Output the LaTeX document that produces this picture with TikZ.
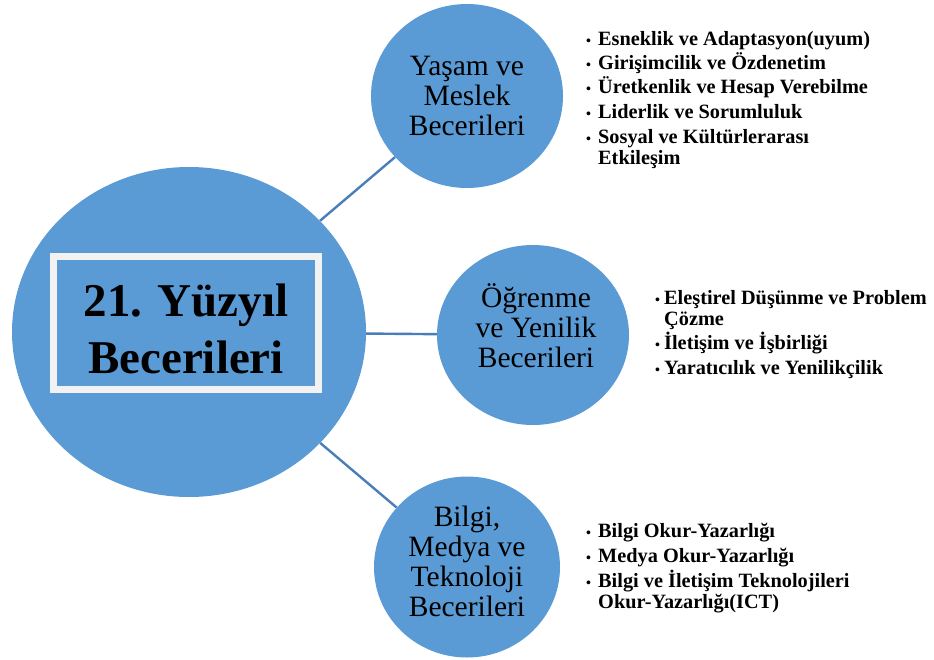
\documentclass[tikz,border=0pt]{standalone}
\usepackage{fontspec}
\setmainfont{Liberation Serif}
\usetikzlibrary{shapes.geometric,shadows}
\definecolor{circblue}{RGB}{91,155,213}
\definecolor{linkblue}{RGB}{74,126,187}
\definecolor{boxwhite}{RGB}{242,242,242}
\begin{document}
\begin{tikzpicture}[x=1pt,y=-1pt,
  blob/.style={ellipse, fill=circblue, draw=none, inner sep=0},
  blobtext/.style={align=center, inner sep=0, font=\fontsize{29.5}{30}\selectfont},
  link/.style={draw=linkblue, line width=2.4pt},
  bultext/.style={anchor=base west, inner sep=0, font=\bfseries\fontsize{20.3}{21}\selectfont},
  bulmark/.style={anchor=base west, inner sep=0, font=\bfseries\fontsize{14}{14}\selectfont}]
\useasboundingbox (0,0) rectangle (934,659);
% circles
\node[blob, minimum width=354, minimum height=330] (big) at (189,332) {};
\node[blob, minimum width=192, minimum height=184] (yasam) at (467,96) {};
\node[blob, minimum width=192, minimum height=180] (ogr) at (533,335) {};
\node[blob, minimum width=186, minimum height=181] (bilgi) at (467,567) {};
% connectors
\draw[link] (big) -- (yasam);
\draw[link] (big) -- (ogr);
\draw[link] (big) -- (bilgi);
% central box
\node[draw=boxwhite, line width=7pt, fill=circblue, minimum width=265, minimum height=133,
  drop shadow={shadow xshift=3pt, shadow yshift=-3pt, fill=gray, opacity=0.7}] (box) at (186,323) {};
\node[align=center, inner sep=0, font=\bfseries\fontsize{47}{57}\selectfont] (boxtext) at (186,329) {21. Yüzyıl\\Becerileri};
% circle texts
\node[blobtext] (yasamt) at (467,95.5) {Yaşam ve\\Meslek\\Becerileri};
\node[blobtext] (ogrt) at (536,326) {Öğrenme\\ve Yenilik\\Becerileri};
\node[blobtext] (bilgit) at (467,561.5) {Bilgi,\\Medya ve\\Teknoloji\\Becerileri};
% top list
\node[bulmark] (ym1) at (586,45) {•};
\node[bultext] (yl1) at (598,45) {Esneklik ve Adaptasyon(uyum)};
\node[bulmark] (ym2) at (586,69) {•};
\node[bultext] (yl2) at (598,69) {Girişimcilik ve Özdenetim};
\node[bulmark] (ym3) at (586,93) {•};
\node[bultext] (yl3) at (598,93) {Üretkenlik ve Hesap Verebilme};
\node[bulmark] (ym4) at (586,118) {•};
\node[bultext] (yl4) at (598,118) {Liderlik ve Sorumluluk};
\node[bulmark] (ym5) at (586,143) {•};
\node[bultext] (yl5) at (598,143) {Sosyal ve Kültürlerarası};
\node[bultext] (yl6) at (598,164) {Etkileşim};
% middle list
\node[bulmark] (om1) at (655,304) {•};
\node[bultext] (ol1) at (664,304) {Eleştirel Düşünme ve Problem};
\node[bultext] (ol2) at (664,325) {Çözme};
\node[bulmark] (om3) at (655,349) {•};
\node[bultext] (ol3) at (664,349) {İletişim ve İşbirliği};
\node[bulmark] (om4) at (655,374) {•};
\node[bultext] (ol4) at (664,374) {Yaratıcılık ve Yenilikçilik};
% bottom list
\node[bulmark] (bm1) at (586,537) {•};
\node[bultext] (bl1) at (598,537) {Bilgi Okur-Yazarlığı};
\node[bulmark] (bm2) at (586,562) {•};
\node[bultext] (bl2) at (598,562) {Medya Okur-Yazarlığı};
\node[bulmark] (bm3) at (586,587) {•};
\node[bultext] (bl3) at (598,587) {Bilgi ve İletişim Teknolojileri};
\node[bultext] (bl4) at (598,608) {Okur-Yazarlığı(ICT)};
\end{tikzpicture}
\end{document}
